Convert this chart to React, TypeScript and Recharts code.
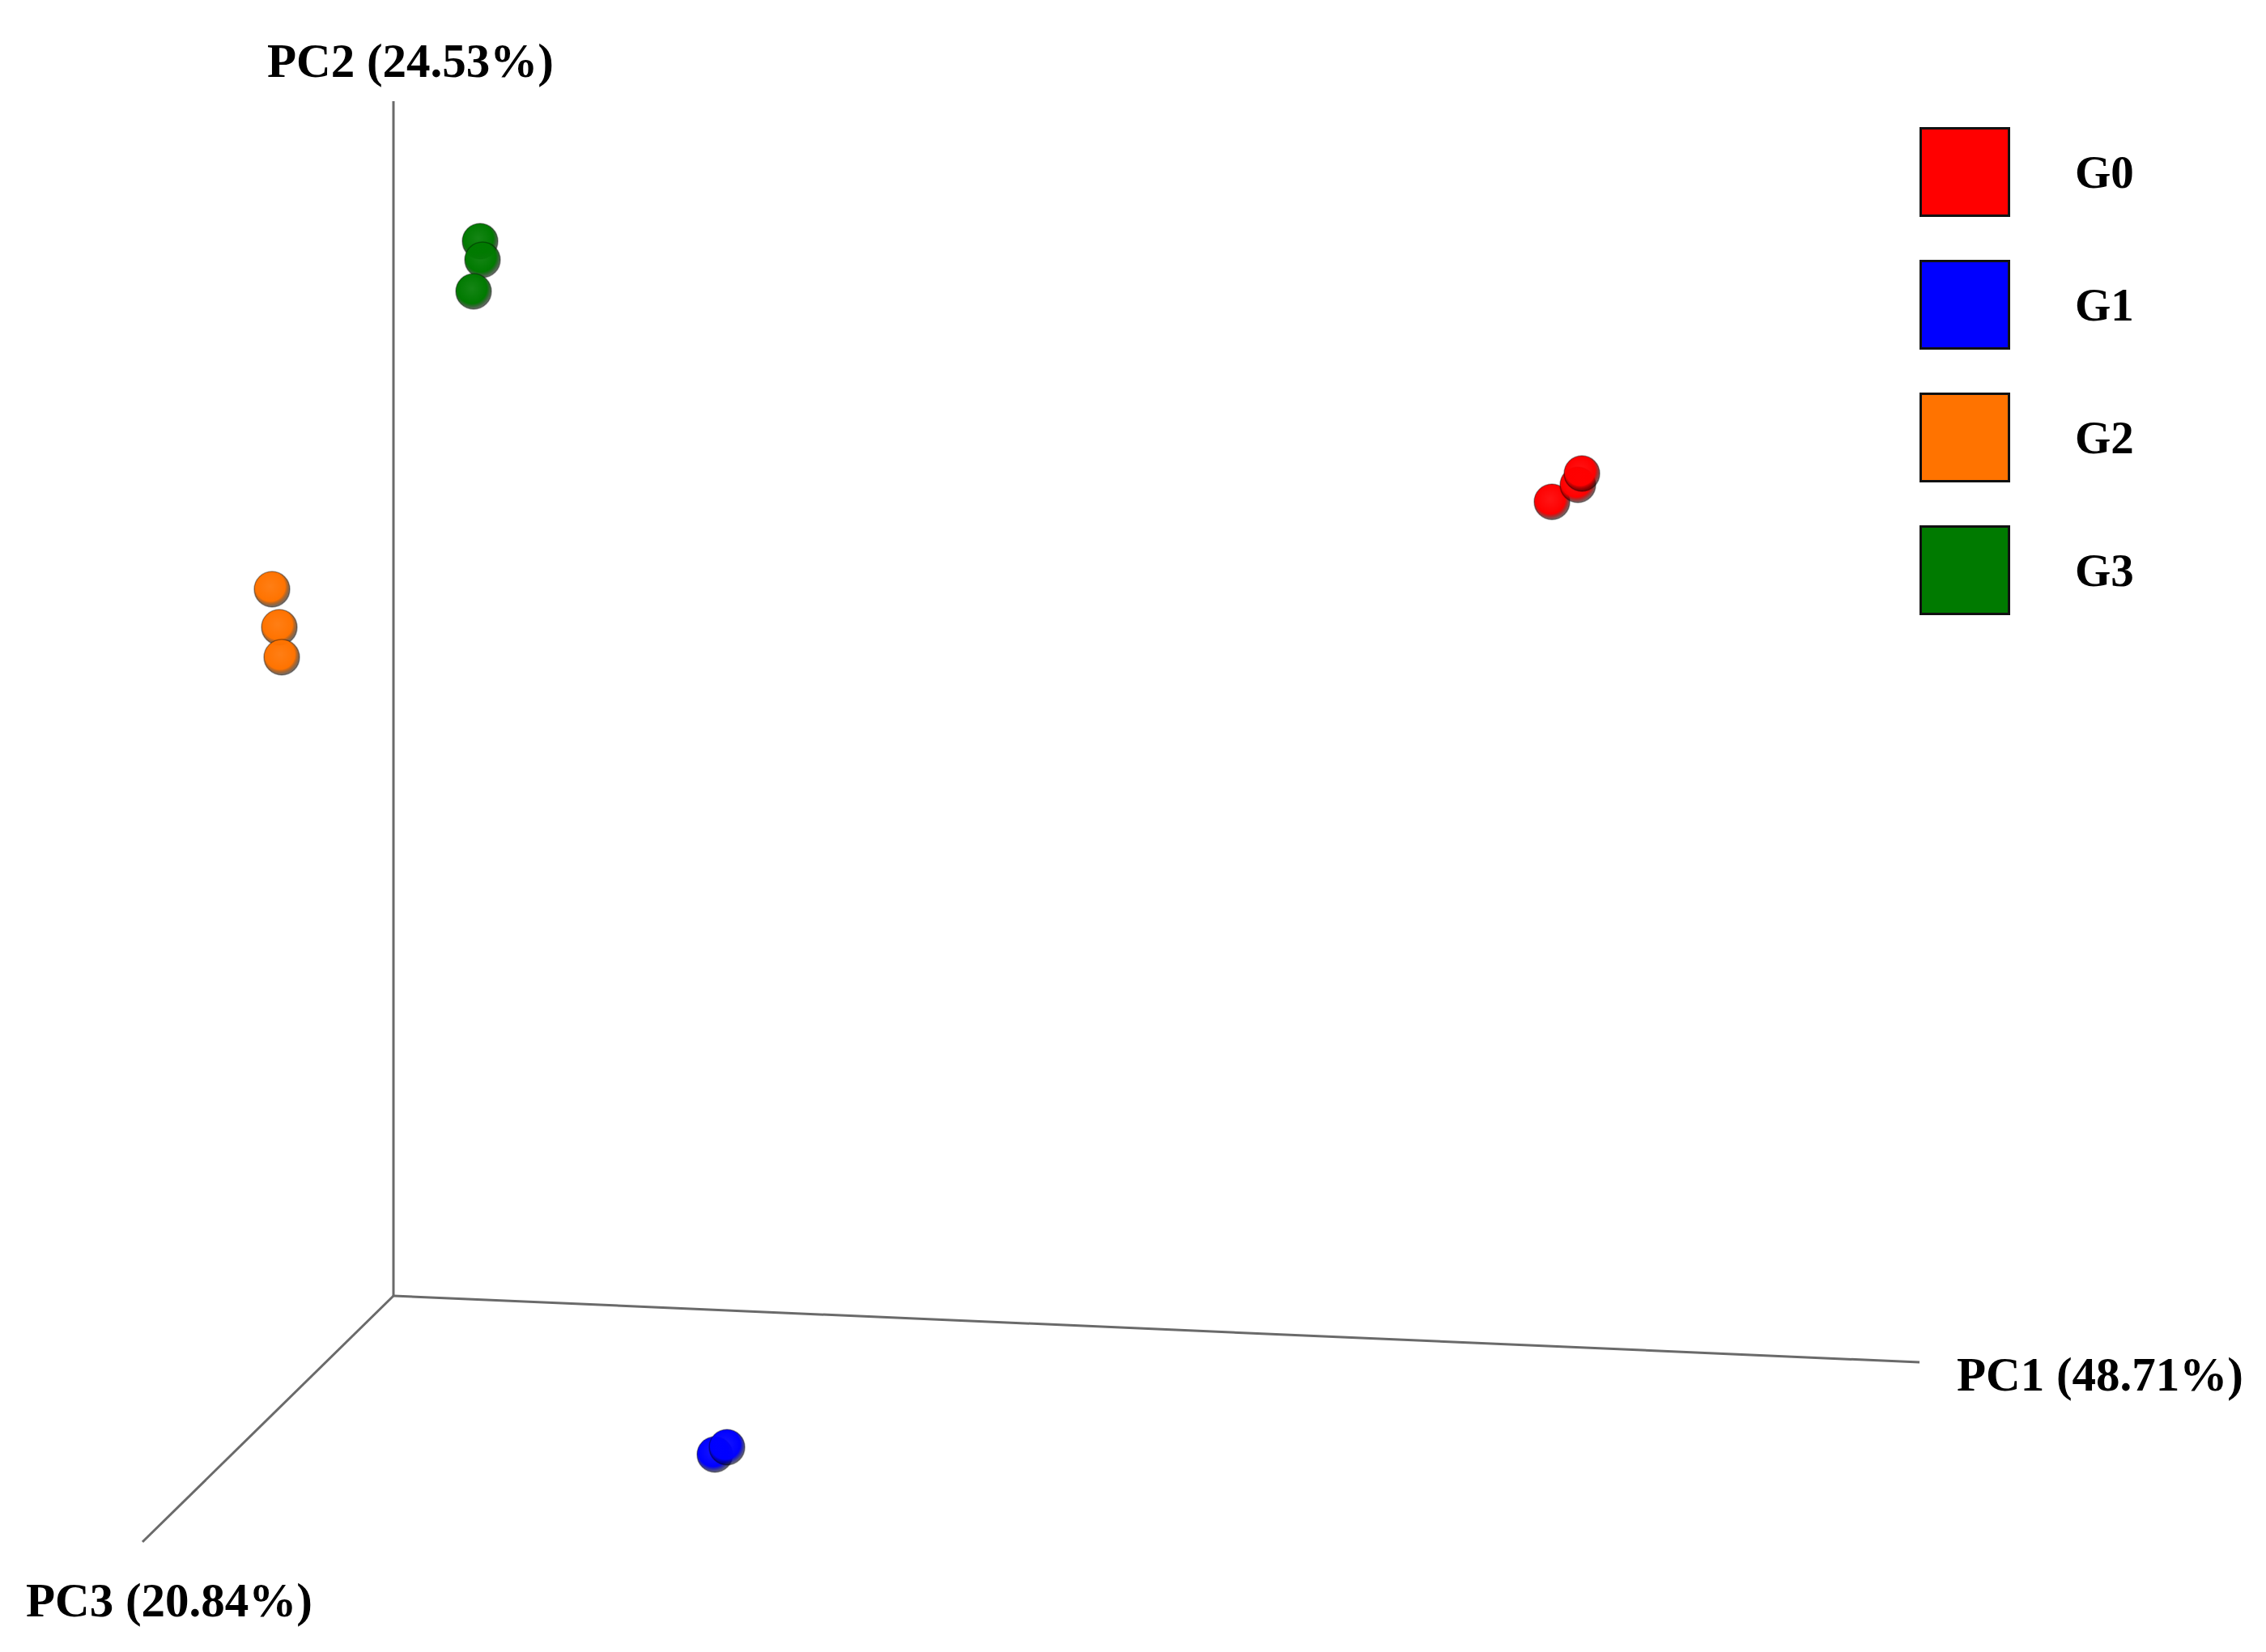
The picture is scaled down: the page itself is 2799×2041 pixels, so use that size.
import {
  ScatterChart,
  Scatter,
  XAxis,
  YAxis,
  ReferenceLine,
  ReferenceDot,
  Legend,
} from 'recharts'

// groups + colours
const groups = ['G0', 'G1', 'G2', 'G3']
const groupColors = ['#ff0000', '#0000ff', '#ff7300', '#007a00']

// sample positions on the projected plane of the 3D view (axis corner = 0,0)
const g0Points = [
  { x: 143.1, y: 98.1 },
  { x: 146.3, y: 100.2 },
  { x: 146.8, y: 101.6 },
]
const g1Points = [
  { x: 39.7, y: -19.6 },
  { x: 41.2, y: -18.7 },
]
const g2Points = [
  { x: -15.0, y: 87.3 },
  { x: -14.1, y: 82.6 },
  { x: -13.8, y: 78.9 },
]
const g3Points = [
  { x: 10.7, y: 130.3 },
  { x: 11.0, y: 128.0 },
  { x: 9.9, y: 124.1 },
]
const groupPoints = [g0Points, g1Points, g2Points, g3Points]

// axis directions of the 3D frame, drawn from the corner
const axisOrigin = { x: 0, y: 0 }
const pc1End = { x: 188.5, y: -8.2 }
const pc2End = { x: 0, y: 147.6 }
const pc3End = { x: -31.0, y: -30.4 }

const axisLabels = ['PC1 (48.71%)', 'PC2 (24.53%)', 'PC3 (20.84%)']
const axisLabelSpots = [
  { x: 193.1, y: -11.7 },
  { x: -15.6, y: 150.6 },
  { x: -45.4, y: -39.6 },
]

const X_DOMAIN: [number, number] = [-48.6, 231.3]
const Y_DOMAIN: [number, number] = [-44.0, 160.1]

const FONT = "'Liberation Serif', 'Times New Roman', serif"
const AXIS_STROKE = '#6a6a6a'

function Sphere(props: any) {
  const { cx, cy, idx } = props
  if (cx == null || cy == null) return null
  return (
    <circle
      cx={cx}
      cy={cy}
      r={22}
      fill={`url(#sphere${idx})`}
      stroke="rgba(0,0,0,0.35)"
      strokeWidth={1.5}
    />
  )
}

function AxisText(props: any) {
  const { cx, cy, text } = props
  return (
    <text
      x={cx}
      y={cy}
      fontFamily={FONT}
      fontWeight="bold"
      fontSize={59}
      fill="#000"
    >
      {text}
    </text>
  )
}

function GroupLegend() {
  return (
    <div style={{ display: 'flex', flexDirection: 'column', gap: 53 }}>
      {groups.map((g, i) => (
        <div key={g} style={{ display: 'flex', alignItems: 'center', height: 111 }}>
          <div
            style={{
              width: 106,
              height: 105,
              background: groupColors[i],
              border: '3px solid #111',
            }}
          />
          <span
            style={{
              marginLeft: 80,
              fontFamily: FONT,
              fontWeight: 'bold',
              fontSize: 57,
              color: '#000',
              lineHeight: 1,
            }}
          >
            {g}
          </span>
        </div>
      ))}
    </div>
  )
}

export default function App() {
  return (
    <div style={{ position: 'absolute', left: 0, top: 0, background: '#fff' }}>
      <ScatterChart
        width={2799}
        height={2041}
        margin={{ top: 0, right: 0, left: 0, bottom: 0 }}
      >
        <defs>
          {groupColors.map((c, i) => (
            <radialGradient key={c} id={`sphere${i}`} cx="0.45" cy="0.42" r="0.6">
              <stop offset="0%" stopColor={c} stopOpacity={0.92} />
              <stop offset="70%" stopColor={c} />
              <stop offset="100%" stopColor="#000" stopOpacity={0.55} />
            </radialGradient>
          ))}
        </defs>
        <XAxis type="number" dataKey="x" domain={X_DOMAIN} hide allowDataOverflow />
        <YAxis type="number" dataKey="y" domain={Y_DOMAIN} hide allowDataOverflow />
        <ReferenceLine segment={[axisOrigin, pc2End]} stroke={AXIS_STROKE} strokeWidth={3} ifOverflow="visible" />
        <ReferenceLine segment={[axisOrigin, pc1End]} stroke={AXIS_STROKE} strokeWidth={3} ifOverflow="visible" />
        <ReferenceLine segment={[axisOrigin, pc3End]} stroke={AXIS_STROKE} strokeWidth={3} ifOverflow="visible" />
        {axisLabels.map((t, i) => (
          <ReferenceDot
            key={t}
            x={axisLabelSpots[i].x}
            y={axisLabelSpots[i].y}
            ifOverflow="visible"
            shape={(p: any) => <AxisText {...p} text={t} />}
          />
        ))}
        {groups.map((g, i) => (
          <Scatter
            key={g}
            name={g}
            data={groupPoints[i]}
            fill={groupColors[i]}
            isAnimationActive={false}
            shape={(p: any) => <Sphere {...p} idx={i} />}
          />
        ))}
        <Legend
          verticalAlign="middle"
          align="center"
          wrapperStyle={{ left: 2371, top: 157, width: 'auto' }}
          content={() => <GroupLegend />}
        />
      </ScatterChart>
    </div>
  )
}
